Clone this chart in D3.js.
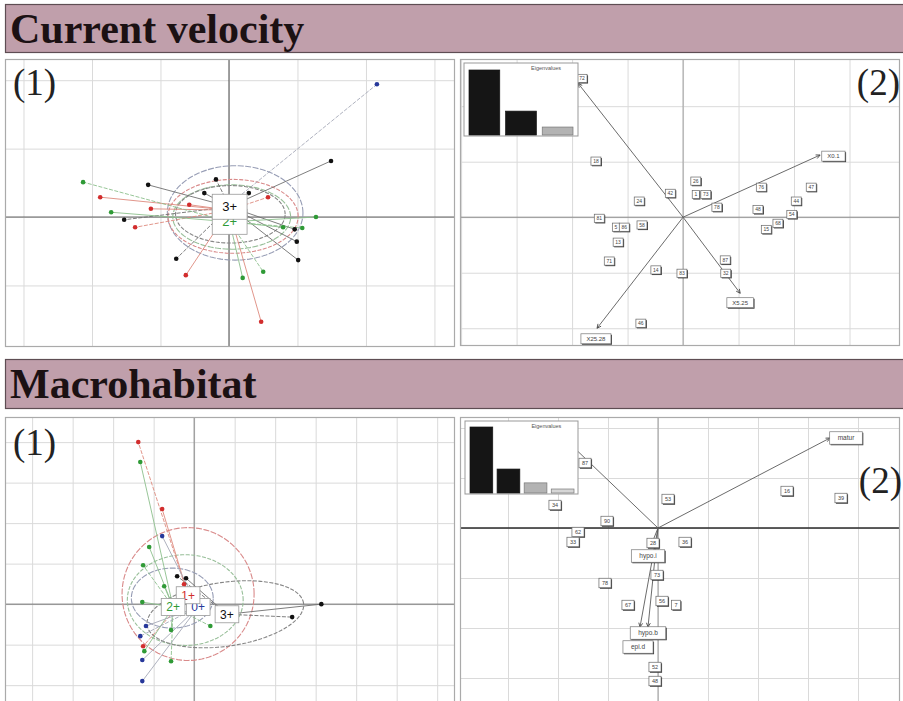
<!DOCTYPE html>
<html>
<head>
<meta charset="utf-8">
<script src="https://cdn.jsdelivr.net/npm/d3@7/dist/d3.min.js"></script>
<style>
  html, body { margin: 0; padding: 0; background: #fff; }
  svg { display: block; }
  text { font-family: "Liberation Sans", Arial, sans-serif; }
</style>
</head>
<body>
<svg id="fig" width="903" height="701"></svg>
<script>
// ---------------- data ----------------
const sectionTitles = ["Current velocity", "Macrohabitat"];
const ageClasses = ["0+", "1+", "2+", "3+"];

// Current velocity: individual fish scores on the first factorial plane, by age class
const velPoints = [
  [2.16, 1.94, "0+"],
  [1.49, 0.82, "3+"], [-1.18, 0.47, "3+"], [-0.19, 0.55, "3+"], [-0.36, 0.35, "3+"],
  [0.29, 0.35, "3+"], [-1.53, -0.04, "3+"], [0.96, -0.18, "3+"], [0.99, -0.36, "3+"],
  [-0.77, -0.61, "3+"], [1.01, -0.63, "3+"],
  [-1.88, 0.29, "1+"], [0.57, 0.29, "1+"], [-0.58, 0.18, "1+"], [-1.14, 0.12, "1+"],
  [-1.37, -0.15, "1+"], [-0.63, -0.85, "1+"], [0.47, -1.53, "1+"],
  [-2.13, 0.51, "2+"], [-1.72, 0.07, "2+"], [1.27, 0.00, "2+"], [1.07, -0.16, "2+"],
  [0.79, -0.15, "2+"], [0.20, -0.89, "2+"], [0.50, -0.80, "2+"]
];
// class centroids
const velCentroids = [["0+", 0.00, 0.18], ["1+", 0.00, 0.10], ["2+", 0.01, -0.07], ["3+", 0.01, 0.15]];
// labels that stay on top of the centroid stack
const velShownLabels = ["2+", "3+"];
// class ellipses: centre, half-axes, rotation (degrees)
const velEllipses = [
  ["0+", 0.09, 0.06, 0.99, 0.69, 0],
  ["1+", 0.06, 0.01, 0.95, 0.54, 0],
  ["2+", 0.04, 0.00, 0.86, 0.47, 0],
  ["3+", 0.02, 0.04, 0.80, 0.42, 0]
];
// site scores and velocity-class variables (name, arrow end, label position)
const velSites = [
  ["72", -1.82, 2.50], ["18", -1.57, 1.01], ["26", 0.23, 0.65], ["1", 0.23, 0.41],
  ["73", 0.41, 0.41], ["42", -0.23, 0.43], ["24", -0.79, 0.29], ["78", 0.61, 0.18],
  ["76", 1.41, 0.54], ["47", 2.31, 0.54], ["44", 2.04, 0.29], ["48", 1.35, 0.14],
  ["54", 1.96, 0.05], ["68", 1.71, -0.11], ["15", 1.50, -0.22], ["81", -1.51, -0.02],
  ["5", -1.21, -0.18], ["86", -1.06, -0.18], ["58", -0.74, -0.14], ["13", -1.17, -0.45],
  ["71", -1.33, -0.79], ["14", -0.49, -0.95], ["83", -0.02, -1.01], ["87", 0.76, -0.77],
  ["32", 0.77, -1.01], ["46", -0.76, -1.91]
];
const velVariables = [
  ["X1.5", -1.89, 2.41, null, null],
  ["X0.1", 2.47, 1.12, 2.71, 1.10],
  ["X5.25", 1.03, -1.37, 1.03, -1.54],
  ["X25.28", -1.55, -2.00, -1.57, -2.19]
];
const velEigenvalues = [1.96, 0.72, 0.24];

// Macrohabitat: individual fish scores by age class
const habPoints = [
  [-1.38, 4.00, "1+"], [-0.79, 2.35, "1+"], [-0.25, 0.49, "1+"], [-1.26, -1.04, "1+"],
  [-1.33, 3.51, "2+"], [-1.11, 1.41, "2+"], [-1.26, 0.96, "2+"], [-0.74, 0.44, "2+"],
  [-1.28, 0.05, "2+"], [0.40, -0.54, "2+"], [-0.57, -0.64, "2+"], [-1.23, -1.16, "2+"],
  [-0.57, -1.41, "2+"],
  [-0.79, 1.68, "0+"], [-1.19, -0.54, "0+"], [-1.33, -0.79, "0+"], [-1.28, -1.38, "0+"],
  [-1.28, -1.90, "0+"],
  [-0.42, 0.69, "3+"], [-0.20, 0.64, "3+"], [3.14, 0.00, "3+"], [2.42, -0.32, "3+"]
];
const habCentroids = [["0+", 0.10, -0.07], ["1+", -0.15, 0.22], ["2+", -0.52, -0.07], ["3+", 0.81, -0.25]];
const habShownLabels = ["0+", "1+", "2+", "3+"];
const habEllipses = [
  ["1+", -0.15, 0.25, 1.63, 1.64, 0],
  ["2+", -0.22, 0.10, 1.43, 1.12, 0],
  ["0+", -0.54, 0.15, 1.01, 0.74, 0],
  ["3+", 0.77, -0.25, 1.95, 0.79, 8]
];
const habSites = [
  ["87", -1.46, 1.30], ["53", 0.20, 0.58], ["16", 2.58, 0.74], ["39", 3.66, 0.60],
  ["34", -2.06, 0.46], ["90", -1.02, 0.14], ["62", -1.60, -0.08], ["33", -1.70, -0.28],
  ["28", -0.10, -0.30], ["36", 0.54, -0.28], ["73", -0.02, -0.94], ["78", -1.06, -1.10],
  ["67", -0.60, -1.54], ["56", 0.08, -1.46], ["7", 0.36, -1.54], ["52", -0.06, -2.78],
  ["48", -0.06, -3.06]
];
const habVariables = [
  ["lotic", -1.84, 1.76, null, null],
  ["matur", 3.44, 1.80, 3.76, 1.80],
  ["hypo.i", -0.12, -0.30, -0.20, -0.56],
  ["hypo.b", -0.20, -1.98, -0.20, -2.10],
  ["epi.d", -0.36, -1.98, -0.40, -2.38]
];
const habEigenvalues = [2.48, 0.90, 0.38, 0.15];

// ---------------- drawing ----------------
const svg = d3.select("#fig");
const classColor = d3.scaleOrdinal().domain(ageClasses).range(["#27389a", "#d22d2d", "#2f9a36", "#111111"]);
const ellipseColor = d3.scaleOrdinal().domain(ageClasses).range(["#979db5", "#d98a8a", "#98bf99", "#858585"]);
const starColor = d3.scaleOrdinal().domain(ageClasses).range(["#a6a9b8", "#de8a7e", "#8cbf8c", "#6f6f6f"]);
let clipCount = 0;

function header(y, h, title) {
  svg.append("rect").attr("x", 5.5).attr("y", y + 0.5).attr("width", 905).attr("height", h)
    .attr("fill", "#c09fab").attr("stroke", "#5e4d53").attr("stroke-width", 1.2);
  svg.append("text").attr("x", 10).attr("y", y + 38.5)
    .style("font-family", "'Liberation Serif', 'Times New Roman', serif")
    .attr("font-weight", "bold").attr("font-size", 42).attr("fill", "#1b1113")
    .text(title);
}

function panel(box, xlim, ylim, axisStyle) {
  const [x0, y0, x1, y1] = box;
  const x = d3.scaleLinear().domain(xlim).range([x0, x1]);
  const y = d3.scaleLinear().domain(ylim).range([y1, y0]);
  const id = "clip" + (clipCount++);
  svg.append("clipPath").attr("id", id).append("rect")
    .attr("x", x0).attr("y", y0).attr("width", x1 - x0).attr("height", y1 - y0);
  const g = svg.append("g").attr("clip-path", `url(#${id})`);
  g.append("rect").attr("x", x0).attr("y", y0).attr("width", x1 - x0).attr("height", y1 - y0).attr("fill", "#fff");

  const xt = d3.range(Math.ceil(xlim[0]), Math.floor(xlim[1]) + 1);
  const yt = d3.range(Math.ceil(ylim[0]), Math.floor(ylim[1]) + 1);
  const gx = g.append("g").attr("transform", `translate(0,${y1})`)
    .call(d3.axisBottom(x).tickValues(xt).tickSize(-(y1 - y0)).tickFormat(""));
  const gy = g.append("g").attr("transform", `translate(${x0},0)`)
    .call(d3.axisLeft(y).tickValues(yt).tickSize(-(x1 - x0)).tickFormat(""));
  [gx, gy].forEach(a => {
    a.select(".domain").remove();
    a.selectAll(".tick line").attr("stroke", "#dadada").attr("stroke-width", 1);
  });
  // origin axes
  g.append("line").attr("x1", x(0)).attr("x2", x(0)).attr("y1", y0).attr("y2", y1)
    .attr("stroke", axisStyle.v).attr("stroke-width", axisStyle.vw);
  g.append("line").attr("x1", x0).attr("x2", x1).attr("y1", y(0)).attr("y2", y(0))
    .attr("stroke", axisStyle.h).attr("stroke-width", axisStyle.hw);
  return { x, y, g, box };
}

function border(p) {
  const [x0, y0, x1, y1] = p.box;
  svg.append("rect").attr("x", x0 + 0.5).attr("y", y0 + 0.5).attr("width", x1 - x0 - 1).attr("height", y1 - y0 - 1)
    .attr("fill", "none").attr("stroke", "#aaaaaa").attr("stroke-width", 1.2);
}

function boxLabel(parent, cx, cy, txt, o) {
  const g = parent.append("g");
  const t = g.append("text").attr("x", cx).attr("y", cy).attr("dy", "0.36em")
    .attr("text-anchor", "middle").attr("font-size", o.size).attr("fill", o.color).text(txt);
  const w = t.node().getComputedTextLength();
  const bw = w + 2 * o.padX, bh = o.size + 2 * o.padY;
  if (o.shadow) {
    g.insert("rect", "text").attr("x", cx - bw / 2 + 1).attr("y", cy - bh / 2 + 1)
      .attr("width", bw).attr("height", bh).attr("fill", "#3a3a3a");
  }
  g.insert("rect", "text").attr("x", cx - bw / 2).attr("y", cy - bh / 2)
    .attr("width", bw).attr("height", bh).attr("fill", "#fff")
    .attr("stroke", o.stroke).attr("stroke-width", o.strokeWidth || 0.8);
}

function ellipsePath(p, e) {
  const [, cx, cy, rx, ry, ang] = e;
  const a = ang * Math.PI / 180;
  const pts = d3.range(0, 121).map(i => {
    const t = i / 120 * 2 * Math.PI;
    const ex = rx * Math.cos(t), ey = ry * Math.sin(t);
    return [cx + ex * Math.cos(a) - ey * Math.sin(a), cy + ex * Math.sin(a) + ey * Math.cos(a)];
  });
  return d3.line().x(d => p.x(d[0])).y(d => p.y(d[1]))(pts);
}

function classPlot(p, points, centroids, ellipses, shown, lab) {
  const cen = new Map(centroids.map(c => [c[0], c]));
  p.g.selectAll(null).data(ellipses).join("path")
    .attr("d", e => ellipsePath(p, e)).attr("fill", "none")
    .attr("stroke", e => ellipseColor(e[0])).attr("stroke-width", 1.1)
    .attr("stroke-dasharray", (e, i) => i % 2 === 0 ? "6,1.5" : "4,1.5");
  p.g.selectAll(null).data(points).join("line")
    .attr("x1", d => p.x(cen.get(d[2])[1])).attr("y1", d => p.y(cen.get(d[2])[2]))
    .attr("x2", d => p.x(d[0])).attr("y2", d => p.y(d[1]))
    .attr("stroke", d => starColor(d[2])).attr("stroke-width", 0.9)
    .attr("stroke-dasharray", (d, i) => i % 3 === 0 ? "4,1.5" : null);
  p.g.selectAll(null).data(points).join("circle")
    .attr("cx", d => p.x(d[0])).attr("cy", d => p.y(d[1])).attr("r", 2.3)
    .attr("fill", d => classColor(d[2]));
  centroids.filter(c => shown.includes(c[0])).forEach(c => boxLabel(p.g, p.x(c[1]), p.y(c[2]), c[0],
    { size: lab.size, padX: lab.padX, padY: lab.padY, color: classColor(c[0]), stroke: "#999" }));
}

function arrowHead(g, x1, y1, x2, y2) {
  const a = Math.atan2(y2 - y1, x2 - x1), L = 4.5, s = 0.45;
  const pts = [[x2 - L * Math.cos(a - s), y2 - L * Math.sin(a - s)], [x2, y2], [x2 - L * Math.cos(a + s), y2 - L * Math.sin(a + s)]];
  g.append("path").attr("d", d3.line()(pts)).attr("fill", "none").attr("stroke", "#444").attr("stroke-width", 0.9);
}

function scorePlot(p, sites, vars, siteLab, varLab) {
  vars.forEach(v => {
    const xa = p.x(0), ya = p.y(0), xb = p.x(v[1]), yb = p.y(v[2]);
    p.g.append("line").attr("x1", xa).attr("y1", ya).attr("x2", xb).attr("y2", yb)
      .attr("stroke", "#5a5a5a").attr("stroke-width", 0.9);
    arrowHead(p.g, xa, ya, xb, yb);
  });
  sites.forEach(s => boxLabel(p.g, p.x(s[1]), p.y(s[2]), s[0],
    { size: siteLab.size, padX: siteLab.padX, padY: siteLab.padY, color: "#444", stroke: "#666", shadow: true, strokeWidth: 0.7 }));
  vars.filter(v => v[3] !== null).forEach(v => boxLabel(p.g, p.x(v[3]), p.y(v[4]), v[0],
    { size: varLab.size, padX: varLab.padX, padY: varLab.padY, color: "#444", stroke: "#777", shadow: true, strokeWidth: 0.7 }));
}

function eigenInset(parent, rect, values, barRange, top) {
  const [x0, y0, x1, y1] = rect;
  const ig = parent.append("g");
  ig.append("rect").attr("x", x0).attr("y", y0).attr("width", x1 - x0).attr("height", y1 - y0)
    .attr("fill", "#fff").attr("stroke", "#999").attr("stroke-width", 1);
  const bx = d3.scaleBand().domain(d3.range(values.length)).range(barRange).paddingInner(0.16);
  const by = d3.scaleLinear().domain([0, d3.max(values)]).range([y1 - 1, top]);
  const fills = ["#151515", "#151515", "#b3b3b3", "#d6d6d6"];
  ig.selectAll(null).data(values).join("rect")
    .attr("x", (d, i) => bx(i)).attr("width", bx.bandwidth())
    .attr("y", d => by(d)).attr("height", d => by(0) - by(d))
    .attr("fill", (d, i) => fills[i]).attr("stroke", (d, i) => i < 2 ? "#151515" : "#777").attr("stroke-width", 0.7);
  ig.append("text").attr("x", x0 + (x1 - x0) * 0.72).attr("y", y0 + 7).attr("text-anchor", "middle")
    .attr("font-size", 5.5).attr("fill", "#555").text("Eigenvalues");
}

function panelTag(x, y, txt, anchor) {
  svg.append("text").attr("x", x).attr("y", y).attr("text-anchor", anchor)
    .style("font-family", "'Liberation Serif', 'Times New Roman', serif")
    .attr("font-size", 37).attr("fill", "#222").text(txt);
}

// ===== Current velocity =====
header(4, 48, sectionTitles[0]);

const p1 = panel([5, 59, 455, 347], [-3.27, 3.30], [-1.90, 2.31], { v: "#505050", vw: 1, h: "#606060", hw: 1 });
classPlot(p1, velPoints, velCentroids, velEllipses, velShownLabels, { size: 13, padX: 10, padY: 6 });
border(p1);
panelTag(13, 95, "(1)", "start");

const p2 = panel([460, 59, 900, 346], [-4.02, 3.91], [-2.32, 2.85], { v: "#a0a0a0", vw: 1, h: "#8a8a8a", hw: 1 });
scorePlot(p2, velSites, velVariables, { size: 5, padX: 2.2, padY: 1.6 }, { size: 6, padX: 5.5, padY: 2 });
eigenInset(p2.g, [464, 63, 578, 136], velEigenvalues, [469, 573], 70);
border(p2);
panelTag(900, 95, "(2)", "end");

// ===== Macrohabitat =====
header(359, 49, sectionTitles[1]);

const p3 = panel([5, 417, 455, 720], [-4.67, 6.44], [-2.86, 4.62], { v: "#808080", vw: 1, h: "#707070", hw: 1 });
classPlot(p3, habPoints, habCentroids, habEllipses, habShownLabels, { size: 12, padX: 5, padY: 2.5 });
border(p3);
panelTag(13, 455, "(1)", "start");

const p4 = panel([460, 417, 900, 720], [-3.96, 4.84], [-3.84, 2.22], { v: "#9a9a9a", vw: 1, h: "#2a2a2a", hw: 1.6 });
scorePlot(p4, habSites, habVariables, { size: 5.5, padX: 3, padY: 2 }, { size: 6.5, padX: 8, padY: 3 });
eigenInset(p4.g, [465, 421, 578, 494], habEigenvalues, [470, 574], 427);
border(p4);
panelTag(902, 493, "(2)", "end");
</script>
</body>
</html>
